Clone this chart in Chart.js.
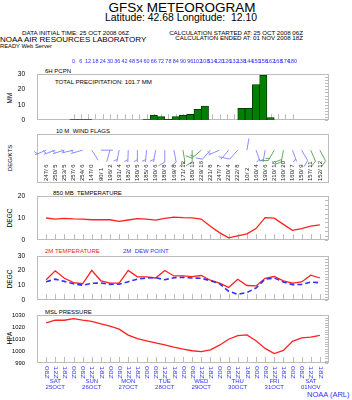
<!DOCTYPE html>
<html><head><meta charset="utf-8">
<script src="https://cdn.jsdelivr.net/npm/chart.js@4.4.1/dist/chart.umd.min.js"></script>
<style>
body{margin:0;background:#fff;width:352px;height:400px;position:relative;overflow:hidden;font-family:"Liberation Sans",Arial,sans-serif;color:#000}
.t{position:absolute;white-space:pre;line-height:1}
.v{position:absolute;white-space:pre;line-height:1;transform:translate(-50%,-50%) rotate(-90deg)}
canvas{position:absolute;left:0}
</style></head><body>
<div class="t" style="left:0;width:364px;text-align:center;top:1px;font-size:13.5px">GFSx METEOROGRAM</div>
<div class="t" style="left:0;width:362px;text-align:center;top:13px;font-size:10.4px">Latitude: 42.68 Longitude:  12.10</div>
<div class="t" style="left:22px;top:29.5px;font-size:6.2px">DATA INITIAL TIME: 25 OCT 2008 06Z</div>
<div class="t" style="right:49px;top:29.5px;font-size:6.2px">CALCULATION STARTED AT: 25 OCT 2008 06Z</div>
<div class="t" style="right:49px;top:35px;font-size:6.2px">CALCULATION ENDED AT: 01 NOV 2008 18Z</div>
<div class="t" style="left:0;top:36px;font-size:8px">NOAA AIR RESOURCES LABORATORY</div>
<div class="t" style="left:0;top:43.5px;font-size:5.8px">READY Web Server</div>

<div class="t" style="left:45px;top:67.5px;font-size:6px">6H PCPN</div>
<div class="t" style="left:55px;top:79px;font-size:6.1px">TOTAL PRECIPITATION: 101.7 MM</div>
<div class="t" style="left:56px;top:128px;font-size:6px">10 M  WIND FLAGS</div>
<div class="t" style="left:53px;top:189.5px;font-size:6px">850 MB  TEMPERATURE</div>
<div class="t" style="left:45px;top:248px;font-size:6px;color:#ff2020">2M TEMPERATURE</div>
<div class="t" style="left:123px;top:248px;font-size:6px;color:#3030ff">2M  DEW POINT</div>
<div class="t" style="left:45px;top:309px;font-size:6px">MSL PRESSURE</div>

<div class="v" style="left:10px;top:98px;font-size:6.5px">MM</div>
<div class="v" style="left:10px;top:158px;font-size:6px">DEG/KTS</div>
<div class="v" style="left:10px;top:218px;font-size:6.5px">DEGC</div>
<div class="v" style="left:10px;top:279px;font-size:6.5px">DEGC</div>
<div class="v" style="left:10px;top:338px;font-size:6.5px">HPA</div>
<div class="t" style="left:307px;top:391px;font-size:7.5px;color:#3030ff">NOAA (ARL)</div>

<canvas id="pcp" width="352" height="73" style="top:55px"></canvas>
<canvas id="wind" width="352" height="49" style="top:134px"></canvas>
<canvas id="t850" width="352" height="60" style="top:188px"></canvas>
<canvas id="t2m" width="352" height="60" style="top:248px"></canvas>
<canvas id="pres" width="352" height="92" style="top:308px"></canvas>

<script>
// forecast hours, 6-hourly from 25 OCT 2008 06Z
const HOURS = [0,6,12,18,24,30,36,42,48,54,60,66,72,78,84,90,96,102,108,114,120,126,132,138,144,150,156,162,168,174,180];
const HOUR_LABELS = ['06Z','12Z','18Z','00Z','06Z','12Z','18Z','00Z','06Z','12Z','18Z','00Z','06Z','12Z','18Z','00Z',
  '06Z','12Z','18Z','00Z','06Z','12Z','18Z','00Z','06Z','12Z','18Z','00Z','06Z','12Z','18Z'];
const DAY_HOURS = [6,30,54,78,102,126,150,174];
const DAY_NAMES = ['SAT','SUN','MON','TUE','WED','THU','FRI','SAT'];
const DAY_DATES = ['25OCT','26OCT','27OCT','28OCT','29OCT','30OCT','31OCT','01NOV'];

const PCPN = [0.4,0.4,0.4,0,0,0,0,0,0,0,0.4,3.2,2.3,0.5,2.3,3.2,3.7,7.0,9.1,0,0,0,0,7.7,7.7,23.1,29.2,1.6,0,0,0];
const WDIR = [247,250,253,257,254,147,90,196,191,182,180,185,190,180,169,171,180,229,221,247,220,222,10,160,190,210,190,160,150,157,152];
const WSPD = [6,5,5,6,6,0,1,2,4,6,5,6,6,8,8,12,11,16,8,7,4,8,2,4,6,16,20,7,9,11,12];
const T850 = [10.0,9.5,9.8,9.6,9.5,9.2,9.2,9.2,8.5,9.1,9.7,9.5,9.0,9.8,10.4,10.2,10.1,9.5,6.3,3.4,1.0,1.9,2.8,5.2,10.2,9.9,7.1,4.4,5.2,6.3,6.9];
const T2M = [13.8,19.9,14.8,11.9,11.1,20.2,13.1,11.5,11.5,20.1,15.8,15.8,15.0,20.1,16.4,16.4,16.0,16.7,13.5,11.5,8.6,14.1,9.9,9.6,14.8,16.0,13.0,11.5,12.3,16.9,15.0];
const DEWP = [12.5,14.2,12.7,11.1,10.1,11.4,11.6,10.7,10.8,12.5,14.2,15.0,15.2,13.8,15.2,15.4,15.0,14.8,13.2,11.2,6.0,3.9,5.1,8.2,14.2,15.0,12.3,10.5,10.6,12.2,11.8];
const PMSL = [1023.8,1026,1026,1027.3,1026,1025,1023,1021,1018.5,1013.5,1010.5,1008.7,1007,1005.2,1003.3,1001.6,1000.3,999.5,1001,1005,1010,1013,1013.6,1008.8,1002.3,998,1000.6,1008.2,1011.2,1011.7,1013.2];

const FONT = '"Liberation Sans", Arial, sans-serif';
const BLUE = '#3030ff', RED = '#ff2020';
Chart.defaults.font.family = FONT;
Chart.defaults.color = '#000';

const xs = () => ({type:'linear', min:-6, max:186, display:false});
const pairs = (arr) => HOURS.map((h,i) => ({x:h, y:arr[i]}));

function yAxis(min, max, step, size) {
  return {
    type:'linear', min:min, max:max,
    afterFit: s => { s.width = 37; },
    border:{display:false}, grid:{display:false},
    ticks:{stepSize:step, padding:4, font:{size:size||6.5}, callback: v => String(v)}
  };
}

// box around each panel, little tick marks inside
const frame = {
  id:'frame',
  beforeDatasetsDraw(chart, args, o) {
    if (o.off) return;
    const ctx = chart.ctx, a = chart.chartArea, sx = chart.scales.x, sy = chart.scales.y;
    ctx.save();
    ctx.strokeStyle = '#bcbcbc'; ctx.lineWidth = 1;
    ctx.strokeRect(Math.round(a.left)+0.5, Math.round(a.top)+0.5, Math.round(a.right-a.left)-1, Math.round(a.bottom-a.top)-1);
    if (o.xticks) {
      HOURS.forEach(h => {
        const x = Math.round(sx.getPixelForValue(h))+0.5;
        ctx.beginPath(); ctx.moveTo(x, a.bottom-1); ctx.lineTo(x, a.bottom-1-o.xticks); ctx.stroke();
      });
    }
    if (o.yminor) {
      for (let v = sy.min; v <= sy.max; v += o.yminor) {
        const y = Math.round(sy.getPixelForValue(v))+0.5;
        ctx.beginPath(); ctx.moveTo(a.right-1, y); ctx.lineTo(a.right-4, y); ctx.stroke();
      }
    }
    ctx.restore();
  }
};
Chart.register(frame);

const base = (pad, y, frameOpts) => ({
  responsive:false, animation:false, events:[],
  layout:{padding:Object.assign({left:0,right:23,top:0,bottom:0}, pad)},
  scales:{x:xs(), y:y},
  plugins:{legend:{display:false}, tooltip:{enabled:false}, frame:frameOpts||{}}
});

// precipitation
const pcpOpts = base({top:19, bottom:5}, yAxis(0,30,10), {xticks:5, yminor:2});
new Chart(document.getElementById('pcp'), {
  type:'bar',
  data:{datasets:[{
    data: HOURS.map((h,i) => ({x:h, y: PCPN[i] > 0 ? PCPN[i] : null})),
    backgroundColor:'#008000', borderColor:'#003000', borderWidth:0.8,
    barPercentage:1, categoryPercentage:1
  }]},
  options: pcpOpts,
  plugins:[{
    id:'topHours',
    afterDraw(chart) {
      const ctx = chart.ctx, sx = chart.scales.x;
      ctx.save(); ctx.fillStyle = BLUE; ctx.font = '5.5px ' + FONT;
      ctx.textAlign = 'center'; ctx.textBaseline = 'middle';
      HOURS.forEach(h => ctx.fillText(String(h), sx.getPixelForValue(h), 6));
      ctx.restore();
    }
  }]
});

// wind flags
function drawBarb(ctx, x, y, dir, spd, len) {
  const r = dir * Math.PI / 180;
  const ux = Math.sin(r), uy = -Math.cos(r);
  const ex = x + ux*len, ey = y + uy*len;
  ctx.beginPath(); ctx.moveTo(x, y); ctx.lineTo(ex, ey);
  // feather direction: shaft rotated clockwise 60 deg
  const a = Math.PI/3;
  const fx = ux*Math.cos(a) - uy*Math.sin(a), fy = ux*Math.sin(a) + uy*Math.cos(a);
  let left = Math.round(spd/5)*5, p = 0;
  while (left >= 10) {
    const bx = ex - ux*p, by = ey - uy*p;
    ctx.moveTo(bx, by); ctx.lineTo(bx + fx*7, by + fy*7);
    left -= 10; p += 2.5;
  }
  if (left >= 5) {
    if (p === 0) p = 2.5;
    const bx = ex - ux*p, by = ey - uy*p;
    ctx.moveTo(bx, by); ctx.lineTo(bx + fx*4, by + fy*4);
  }
  ctx.stroke();
}
const windOpts = base({left:37}, {type:'linear', min:0, max:1, display:false}, {});
new Chart(document.getElementById('wind'), {
  type:'scatter',
  data:{datasets:[{data: HOURS.map(h => ({x:h, y:0.67})), pointRadius:0}]},
  options: windOpts,
  plugins:[{
    id:'barbs',
    afterDatasetsDraw(chart) {
      const ctx = chart.ctx, pts = chart.getDatasetMeta(0).data;
      ctx.save(); ctx.lineWidth = 0.9;
      pts.forEach((p,i) => {
        ctx.strokeStyle = WSPD[i] >= 10 ? '#50a050' : '#8080ff';
        drawBarb(ctx, p.x, p.y, WDIR[i], WSPD[i], 12);
        ctx.save();
        ctx.translate(p.x, chart.chartArea.bottom - 2);
        ctx.rotate(-Math.PI/2);
        ctx.fillStyle = '#202020'; ctx.font = '6px ' + FONT;
        ctx.textBaseline = 'middle'; ctx.textAlign = 'left';
        ctx.fillText(String(WDIR[i]) + '/ ' + String(WSPD[i]), 0, 0);
        ctx.restore();
      });
      ctx.restore();
    }
  }]
});

// 850 mb temperature
new Chart(document.getElementById('t850'), {
  type:'line',
  data:{datasets:[{data: pairs(T850), borderColor:RED, borderWidth:1.3, pointRadius:0, tension:0}]},
  options: base({top:6, bottom:5}, yAxis(0,20,10), {xticks:5, yminor:2})
});

// 2 m temperature and dew point
new Chart(document.getElementById('t2m'), {
  type:'line',
  data:{datasets:[
    {data: pairs(DEWP), borderColor:BLUE, borderWidth:1.6, borderDash:[5,3], pointRadius:0, tension:0},
    {data: pairs(T2M), borderColor:RED, borderWidth:1.3, pointRadius:0, tension:0}
  ]},
  options: base({top:6, bottom:5}, yAxis(0,30,10), {xticks:5, yminor:2})
});

// sea level pressure, with time axis below
new Chart(document.getElementById('pres'), {
  type:'line',
  data:{datasets:[{data: pairs(PMSL), borderColor:RED, borderWidth:1.3, pointRadius:0, tension:0}]},
  options: base({top:6, bottom:37}, yAxis(990,1030,10,5.8), {xticks:5, yminor:2}),
  plugins:[{
    id:'timeAxis',
    afterDraw(chart) {
      const ctx = chart.ctx, sx = chart.scales.x, a = chart.chartArea;
      ctx.save(); ctx.fillStyle = BLUE;
      HOURS.forEach((h,i) => {
        ctx.save();
        ctx.translate(sx.getPixelForValue(h), a.bottom + 3);
        ctx.rotate(Math.PI/2);
        ctx.scale(1.5, 1);
        ctx.font = '5px ' + FONT; ctx.textBaseline = 'middle'; ctx.textAlign = 'left';
        ctx.fillText(HOUR_LABELS[i], 0, 0);
        ctx.restore();
      });
      ctx.font = '6px ' + FONT; ctx.textAlign = 'center'; ctx.textBaseline = 'middle';
      DAY_HOURS.forEach((h,i) => {
        const x = sx.getPixelForValue(h);
        ctx.fillText(DAY_NAMES[i], x, a.bottom + 18);
        ctx.fillText(DAY_DATES[i], x, a.bottom + 24);
      });
      ctx.restore();
    }
  }]
});
</script>
</body></html>
